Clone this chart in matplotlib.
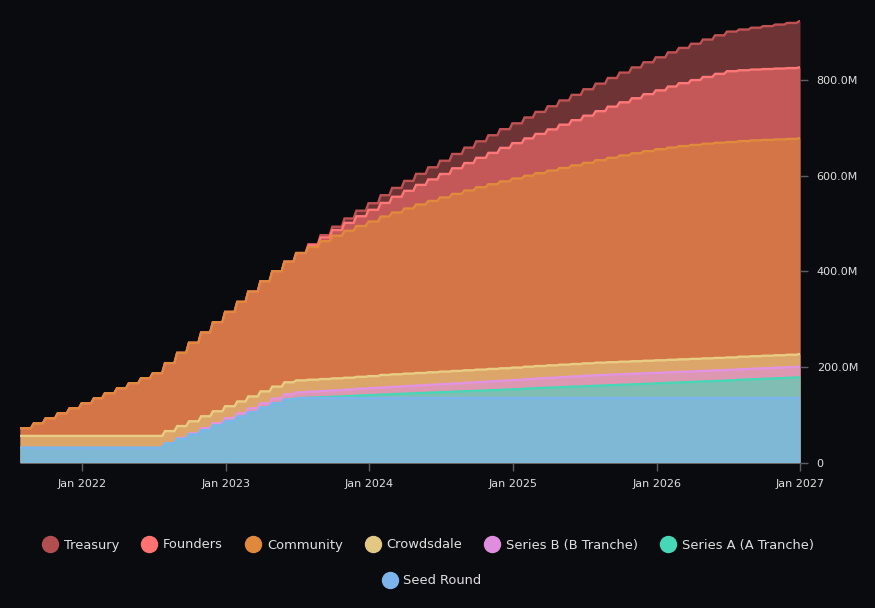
import matplotlib
matplotlib.use('Agg')
import matplotlib.pyplot as plt
import matplotlib.dates as mdates
from matplotlib.ticker import FuncFormatter, FixedLocator
from matplotlib.lines import Line2D
import numpy as np
import pandas as pd

plt.rcParams['font.family'] = ['DejaVu Sans']

# ---------------- data (monthly, millions of tokens) ----------------
months = pd.date_range('2021-08-01', '2027-01-01', freq='MS')

seed_round = [31, 31, 31, 31, 31, 31, 31, 31, 31, 31, 31, 31,
              40, 49.5, 58.5, 68, 77.5, 87, 96, 105.5, 115, 124, 132, 135,
              135, 135, 135, 135, 135, 135, 135, 135, 135, 135, 135, 135,
              135, 135, 135, 135, 135, 135, 135, 135, 135, 135, 135, 135,
              135, 135, 135, 135, 135, 135, 135, 135, 135, 135, 135, 135,
              135, 135, 135, 135, 135, 135]

series_a = [0, 0, 0, 0, 0, 0, 0, 0, 0, 0, 0, 0,
            0, 0, 0, 0, 0, 0, 0, 0, 0, 0, 0, 0,
            1, 2, 3, 4, 5.5, 6.5, 7.5, 8.5, 9.5, 10.5, 11.5, 12.5,
            13.5, 14.5, 15.5, 16.5, 17.5, 18.5, 20, 21, 22, 23, 24, 25,
            26, 27, 28, 29, 30, 31, 32, 33, 34, 35, 36, 37,
            38.5, 39.5, 40.5, 41.5, 42.5, 44]

series_b = [0, 0, 0, 0, 0, 0, 0, 0, 0, 0, 0, 0,
            1, 2, 3, 4, 5, 6, 7, 8, 9, 10, 11, 12,
            12.4, 12.8, 13.2, 13.6, 14, 14.4, 14.8, 15.2, 15.6, 16, 16.4, 16.8,
            17.2, 17.6, 18, 18.4, 18.8, 19.2, 19.6, 20, 20.4, 20.8, 21.2, 21.6,
            22, 22, 22, 22, 22, 22, 22, 22, 22, 22, 22, 22,
            22, 22, 22, 22, 22, 22]

crowdsdale = [25, 25, 25, 25, 25, 25, 25, 25, 25, 25, 25, 25,
              25, 25, 25, 25, 25, 25, 25, 25, 25, 25, 25, 25,
              25, 25, 25, 25, 25, 25, 26, 26, 26, 26, 26, 26,
              26, 26, 26, 26, 26, 26, 26, 26, 26, 26, 26, 26,
              26, 26, 26, 26, 26, 26, 26, 26, 26, 26, 26, 26,
              26, 26, 26, 26, 26, 26]

community = [16, 26, 36.5, 47, 57.5, 68, 78.5, 89, 99.5, 110, 120.5, 131,
             142, 153, 164, 175, 186, 197, 208, 219, 230, 241, 252, 266,
             277, 288, 298, 307, 315, 323, 331, 338, 345, 352, 358, 364,
             370, 375.5, 381, 386, 390.5, 395, 399, 403, 407, 411, 415, 419,
             423, 427, 431, 434.5, 438, 441, 443.5, 445.5, 447, 448.5, 449.5, 450,
             450.5, 451, 451, 451, 451, 451]

founders = [0, 0, 0, 0, 0, 0, 0, 0, 0, 0, 0, 0,
            0, 0, 0, 0, 0, 0, 0, 0, 0, 0, 0, 0,
            4, 8, 12, 16.5, 20.5, 24.5, 28.5, 33, 37, 41, 45, 49,
            53.5, 57.5, 61.5, 65.5, 70, 74, 78, 82, 86, 90.5, 94.5, 98.5,
            102.5, 107, 111, 115, 119, 123, 127.5, 131.5, 135.5, 139.5, 144, 148,
            148, 148, 148, 148, 148, 148]

treasury = [0, 0, 0, 0, 0, 0, 0, 0, 0, 0, 0, 0,
            0, 0, 0, 0, 0, 0, 0, 0, 0, 0, 0, 0,
            2.3, 4.6, 6.9, 9.2, 11.5, 13.8, 16.1, 18.4, 20.7, 23, 25.3, 27.6,
            29.9, 32.2, 34.5, 36.8, 39.1, 41.4, 43.7, 46, 48.3, 50.6, 52.9, 55.2,
            57.5, 59.8, 62.1, 64.4, 66.7, 69, 71.3, 73.6, 75.9, 78.2, 80.5, 82.8,
            85.1, 87.4, 89.7, 92, 94.3, 96.6]

# stacking order bottom -> top
names = ["Seed Round", "Series A (A Tranche)", "Series B (B Tranche)",
         "Crowdsdale", "Community", "Founders", "Treasury"]
values = [seed_round, series_a, series_b, crowdsdale, community, founders, treasury]
colors = ["#7cb5ec", "#46d7b6", "#df8ddf", "#e2c882", "#e0893c", "#ff7272", "#b24e50"]
line_colors = ["#7cb5ec", "#46d7b6", "#e393e3", "#e8cc84", "#e08a3c", "#ff7878", "#c05254"]

BG = "#0a0b0e"

fig = plt.figure(figsize=(8.75, 6.08), dpi=100, facecolor=BG)
ax = fig.add_axes([20 / 875, (608 - 462.7) / 608, 780 / 875, (462.7 - 20) / 608])
ax.set_facecolor(BG)

cum = np.cumsum(np.array(values, dtype=float), axis=0)


def step_path(dates, vals):
    xs = [dates[0] - pd.Timedelta(days=6)]
    ys = [vals[0]]
    for i in range(1, len(dates)):
        xs += [dates[i] - pd.Timedelta(days=9), dates[i] - pd.Timedelta(days=2)]
        ys += [vals[i - 1], vals[i]]
    xs.append(dates[-1])
    ys.append(vals[-1])
    return mdates.date2num(pd.DatetimeIndex(xs).to_pydatetime()), np.array(ys)


# draw from top series (Treasury) to bottom (Seed), each area from zero, semi-transparent
for k in range(len(names) - 1, -1, -1):
    xs, ys = step_path(months, cum[k])
    ax.fill_between(xs, 0, ys, color=colors[k], alpha=0.6, linewidth=0)
    ax.plot(xs, ys, color=line_colors[k], lw=1.7, solid_joinstyle='miter')

x0 = mdates.date2num((months[0] - pd.Timedelta(days=6)).to_pydatetime())
x1 = mdates.date2num(months[-1].to_pydatetime())
ax.set_xlim(x0, x1)
ax.set_ylim(0, 925)

for s in ax.spines.values():
    s.set_visible(False)

xticks = pd.to_datetime(['2022-01-01', '2023-01-01', '2024-01-01', '2025-01-01', '2026-01-01', '2027-01-01'])
ax.xaxis.set_major_locator(FixedLocator(mdates.date2num(xticks.to_pydatetime())))
ax.xaxis.set_major_formatter(mdates.DateFormatter('Jan %Y'))

ax.yaxis.tick_right()
ax.set_yticks([0, 200, 400, 600, 800])
ax.yaxis.set_major_formatter(FuncFormatter(lambda v, p: "0" if v == 0 else f"{v:.1f}M"))

ax.tick_params(axis='x', colors='#5a5e66', length=6, width=1, labelcolor='#e0e0e0', labelsize=8, pad=6)
ax.tick_params(axis='y', colors='#5a5e66', length=6, width=1, labelcolor='#e0e0e0', labelsize=8, pad=6)

# legend
def handle(c):
    return Line2D([], [], marker='o', linestyle='None', markersize=11.5,
                  markerfacecolor=c, markeredgecolor=c)

order_top = [6, 5, 4, 3, 2, 1]
leg1 = fig.legend([handle(colors[k]) for k in order_top], [names[k] for k in order_top],
                  loc='center', bbox_to_anchor=(0.490, 1 - 545 / 608), ncol=6,
                  frameon=False, fontsize=9.4, labelcolor='#e0e0e0',
                  handlelength=1.0, handletextpad=0.55, columnspacing=1.8)
leg2 = fig.legend([handle(colors[0])], [names[0]],
                  loc='center', bbox_to_anchor=(0.494, 1 - 581 / 608), ncol=1,
                  frameon=False, fontsize=9.4, labelcolor='#e0e0e0',
                  handlelength=1.0, handletextpad=0.55)

fig.savefig('out.png', dpi=100, facecolor=BG)
